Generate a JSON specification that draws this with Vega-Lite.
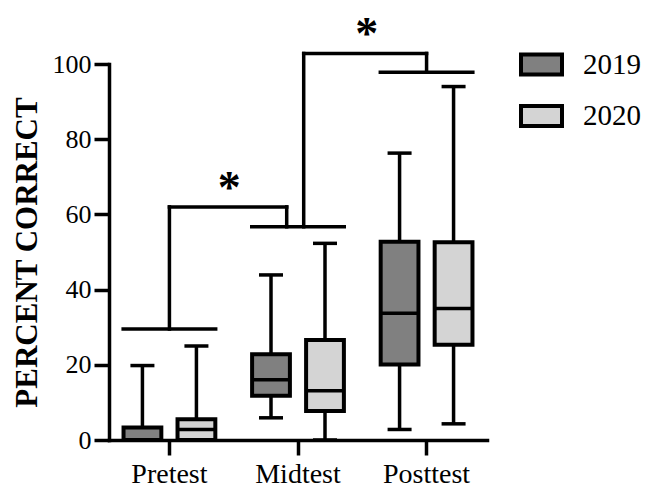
{
  "$schema": "https://vega.github.io/schema/vega-lite/v6.json",
  "width": 378,
  "height": 376,
  "autosize": {"type": "none"},
  "padding": {"left": 109, "top": 64, "right": 158, "bottom": 47},
  "background": "white",
  "config": {
    "view": {"stroke": null},
    "font": "Liberation Serif",
    "axis": {
      "domainColor": "black", "domainWidth": 3.5, "domainCap": "square",
      "tickColor": "black", "tickWidth": 3.5, "tickSize": 15,
      "labelColor": "black", "labelFont": "Liberation Serif",
      "grid": false
    },
    "axisX": {"labelFontSize": 28, "labelPadding": 5, "labelAngle": 0},
    "axisY": {"labelFontSize": 26, "labelPadding": 3, "titleFont": "Liberation Serif", "titleFontSize": 31, "titleFontWeight": "bold", "titleColor": "black", "titlePadding": 9},
    "legend": {
      "orient": "none", "legendX": 410, "legendY": -22, "padding": 0,
      "symbolType": "M-1,-0.49H1V0.49H-1Z", "symbolSize": 1681,
      "symbolStrokeColor": "black", "symbolStrokeWidth": 4,
      "labelFont": "Liberation Serif", "labelFontSize": 29, "labelColor": "black",
      "labelOffset": 19, "rowPadding": 10.5
    }
  },
  "datasets": {
    "stats": [
      {"test": "Pretest", "year": "2019", "min": 0, "q1": 0, "median": 0, "q3": 3.3, "max": 19.8},
      {"test": "Pretest", "year": "2020", "min": 0, "q1": 0, "median": 2.8, "q3": 5.5, "max": 25.0},
      {"test": "Midtest", "year": "2019", "min": 5.9, "q1": 11.8, "median": 16.0, "q3": 22.8, "max": 43.9},
      {"test": "Midtest", "year": "2020", "min": 0, "q1": 7.7, "median": 13.1, "q3": 26.6, "max": 52.3},
      {"test": "Posttest", "year": "2019", "min": 2.8, "q1": 20.1, "median": 33.7, "q3": 52.7, "max": 76.3},
      {"test": "Posttest", "year": "2020", "min": 4.3, "q1": 25.3, "median": 35.0, "q3": 52.6, "max": 94.0}
    ],
    "groups": [
      {"test": "Pretest", "level": 29.5},
      {"test": "Midtest", "level": 56.7},
      {"test": "Posttest", "level": 97.8}
    ],
    "brackets": [
      {"pair": "Pre-Mid", "left": "Pretest", "right": "Midtest", "left_base": 29.5, "right_base": 56.7, "top": 62.0, "star": 68.7},
      {"pair": "Mid-Post", "left": "Midtest", "right": "Posttest", "left_base": 56.7, "right_base": 97.8, "top": 102.8, "star": 109.5}
    ]
  },
  "encoding": {
    "x": {"field": "test", "type": "nominal", "title": null,
      "scale": {"domain": ["Pretest", "Midtest", "Posttest"], "paddingInner": 0.1, "paddingOuter": 0.02}},
    "y": {"type": "quantitative", "title": "PERCENT CORRECT",
      "scale": {"domain": [0, 100], "nice": false},
      "axis": {"values": [0, 20, 40, 60, 80, 100]}}
  },
  "layer": [
    {
      "data": {"name": "stats"},
      "mark": {"type": "rule", "color": "black", "strokeWidth": 3.5},
      "encoding": {
        "xOffset": {"field": "year", "type": "nominal", "scale": {"domain": ["2019", "2020"], "paddingInner": 0.3, "paddingOuter": 0.2215}},
        "y": {"field": "min", "type": "quantitative", "title": "PERCENT CORRECT"},
        "y2": {"field": "max"}
      }
    },
    {
      "data": {"name": "stats"},
      "mark": {"type": "tick", "color": "black", "size": 24, "thickness": 3.5, "opacity": 1},
      "encoding": {
        "xOffset": {"field": "year", "type": "nominal"},
        "y": {"field": "max", "type": "quantitative", "title": "PERCENT CORRECT"}
      }
    },
    {
      "data": {"name": "stats"},
      "mark": {"type": "tick", "color": "black", "size": 24, "thickness": 3.5, "opacity": 1},
      "encoding": {
        "xOffset": {"field": "year", "type": "nominal"},
        "y": {"field": "min", "type": "quantitative", "title": "PERCENT CORRECT"}
      }
    },
    {
      "data": {"name": "stats"},
      "mark": {"type": "bar", "stroke": "black", "strokeWidth": 4, "opacity": 1},
      "encoding": {
        "xOffset": {"field": "year", "type": "nominal"},
        "y": {"field": "q1", "type": "quantitative", "title": "PERCENT CORRECT"},
        "y2": {"field": "q3"},
        "color": {"field": "year", "type": "nominal", "title": null,
          "scale": {"domain": ["2019", "2020"], "range": ["#808080", "#d4d4d4"]}}
      }
    },
    {
      "data": {"name": "stats"},
      "mark": {"type": "tick", "color": "black", "size": 38, "thickness": 3.5, "opacity": 1},
      "encoding": {
        "xOffset": {"field": "year", "type": "nominal"},
        "y": {"field": "median", "type": "quantitative", "title": "PERCENT CORRECT"}
      }
    },
    {
      "data": {"name": "groups"},
      "mark": {"type": "tick", "color": "black", "size": 96, "thickness": 3.5, "opacity": 1},
      "encoding": {
        "y": {"field": "level", "type": "quantitative", "title": "PERCENT CORRECT"}
      }
    },
    {
      "data": {"name": "brackets"},
      "transform": [{"filter": "datum.pair === 'Pre-Mid'"}],
      "mark": {"type": "rule", "color": "black", "strokeWidth": 3.5, "strokeCap": "square"},
      "encoding": {
        "x": {"field": "left", "type": "nominal", "title": null},
        "y": {"field": "left_base", "type": "quantitative", "title": "PERCENT CORRECT"},
        "y2": {"field": "top"}
      }
    },
    {
      "data": {"name": "brackets"},
      "transform": [{"filter": "datum.pair === 'Pre-Mid'"}],
      "mark": {"type": "rule", "color": "black", "strokeWidth": 3.5, "strokeCap": "square", "x2Offset": -11.3},
      "encoding": {
        "x": {"field": "left", "type": "nominal", "title": null},
        "x2": {"field": "right"},
        "y": {"field": "top", "type": "quantitative", "title": "PERCENT CORRECT"}
      }
    },
    {
      "data": {"name": "brackets"},
      "transform": [{"filter": "datum.pair === 'Pre-Mid'"}],
      "mark": {"type": "rule", "color": "black", "strokeWidth": 3.5, "strokeCap": "square", "xOffset": -11.3},
      "encoding": {
        "x": {"field": "right", "type": "nominal", "title": null},
        "y": {"field": "right_base", "type": "quantitative", "title": "PERCENT CORRECT"},
        "y2": {"field": "top"}
      }
    },
    {
      "data": {"name": "brackets"},
      "transform": [{"filter": "datum.pair === 'Mid-Post'"}],
      "mark": {"type": "rule", "color": "black", "strokeWidth": 3.5, "strokeCap": "square", "xOffset": 5.7},
      "encoding": {
        "x": {"field": "left", "type": "nominal", "title": null},
        "y": {"field": "left_base", "type": "quantitative", "title": "PERCENT CORRECT"},
        "y2": {"field": "top"}
      }
    },
    {
      "data": {"name": "brackets"},
      "transform": [{"filter": "datum.pair === 'Mid-Post'"}],
      "mark": {"type": "rule", "color": "black", "strokeWidth": 3.5, "strokeCap": "square", "xOffset": 5.7},
      "encoding": {
        "x": {"field": "left", "type": "nominal", "title": null},
        "x2": {"field": "right"},
        "y": {"field": "top", "type": "quantitative", "title": "PERCENT CORRECT"}
      }
    },
    {
      "data": {"name": "brackets"},
      "transform": [{"filter": "datum.pair === 'Mid-Post'"}],
      "mark": {"type": "rule", "color": "black", "strokeWidth": 3.5, "strokeCap": "square"},
      "encoding": {
        "x": {"field": "right", "type": "nominal", "title": null},
        "y": {"field": "right_base", "type": "quantitative", "title": "PERCENT CORRECT"},
        "y2": {"field": "top"}
      }
    },
    {
      "data": {"name": "brackets"},
      "transform": [{"filter": "datum.pair === 'Pre-Mid'"}],
      "mark": {"type": "text", "text": "*", "font": "Liberation Serif", "fontSize": 46, "fontWeight": "bold", "color": "black", "baseline": "middle", "dx": -11, "dy": 7},
      "encoding": {
        "x": {"field": "right", "type": "nominal", "title": null, "bandPosition": 0},
        "y": {"field": "star", "type": "quantitative", "title": "PERCENT CORRECT"}
      }
    },
    {
      "data": {"name": "brackets"},
      "transform": [{"filter": "datum.pair === 'Mid-Post'"}],
      "mark": {"type": "text", "text": "*", "font": "Liberation Serif", "fontSize": 46, "fontWeight": "bold", "color": "black", "baseline": "middle", "dx": -2, "dy": 7},
      "encoding": {
        "x": {"field": "right", "type": "nominal", "title": null, "bandPosition": 0},
        "y": {"field": "star", "type": "quantitative", "title": "PERCENT CORRECT"}
      }
    }
  ]
}
